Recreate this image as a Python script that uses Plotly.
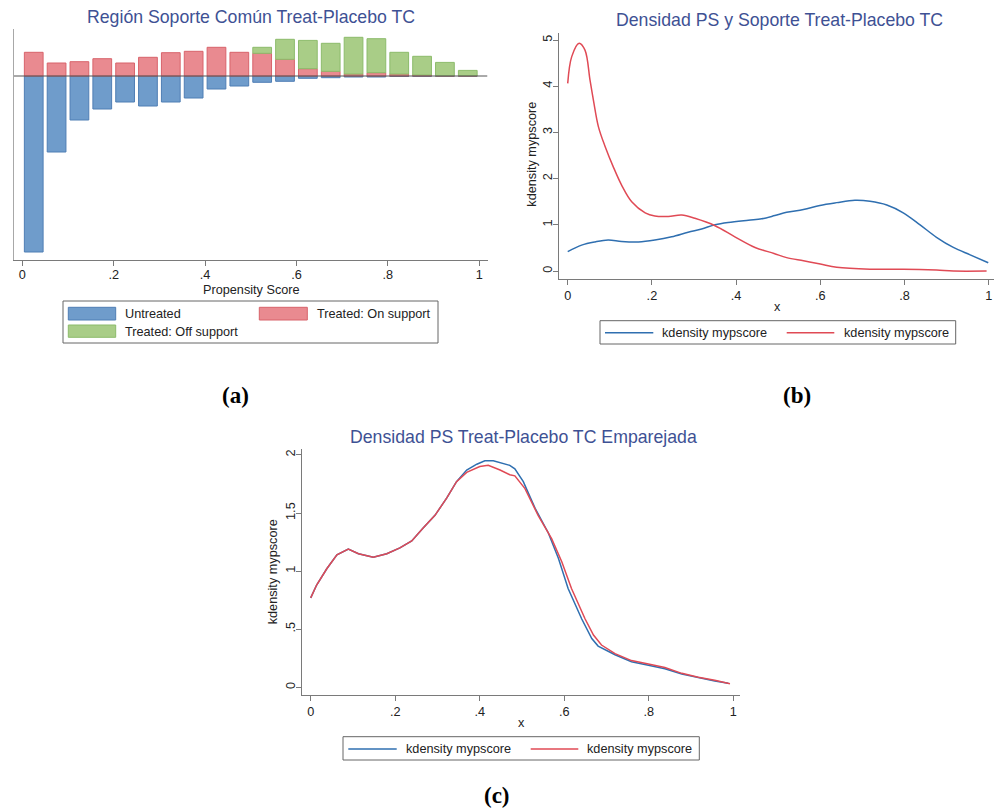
import plotly.graph_objects as go

# ---------------- data ----------------
# (a) histogram bins of the propensity score
bin_centers = [0.025, 0.075, 0.125, 0.175, 0.225, 0.275, 0.325, 0.375, 0.425, 0.475,
               0.525, 0.575, 0.625, 0.675, 0.725, 0.775, 0.825, 0.875, 0.925, 0.975]
untreated = [-176, -76, -44, -33, -26, -30, -26, -22, -13, -10,
             -6.3, -5.3, -2.3, -1.7, -1.0, -1.0, -0.5, -0.3, -0.2, -0.1]
treated_on = [23.7, 13, 14.3, 17.3, 13, 18.7, 23.3, 24.7, 28.7, 23.7,
              22.7, 16.7, 7.3, 4.7, 2.0, 3.3, 2.0, 1.0, 0.3, 0.3]
treated_off = [None, None, None, None, None, None, None, None, None, None,
               6.0, 20.0, 28.3, 28.0, 36.7, 34.0, 21.7, 18.7, 13.3, 5.3]
xticks_a = [0, 0.2, 0.4, 0.6, 0.8, 1]
xticktext = ["0", ".2", ".4", ".6", ".8", "1"]

# (b) kernel densities, unmatched
b_blue_x = [0, 0.033, 0.065, 0.096, 0.128, 0.168, 0.207, 0.247, 0.286, 0.318, 0.35, 0.381,
            0.429, 0.461, 0.492, 0.52, 0.56, 0.599, 0.639, 0.682, 0.718, 0.758, 0.797,
            0.837, 0.876, 0.916, 0.956, 0.999]
b_blue_y = [0.42, 0.56, 0.63, 0.67, 0.64, 0.63, 0.67, 0.74, 0.84, 0.91, 1.0, 1.05,
            1.10, 1.13, 1.20, 1.27, 1.33, 1.42, 1.48, 1.53, 1.51, 1.43, 1.26,
            1.0, 0.73, 0.51, 0.35, 0.18]
b_red_x = [0, 0.0095, 0.027, 0.041, 0.053, 0.061, 0.073, 0.089, 0.108, 0.128, 0.152, 0.184,
           0.207, 0.239, 0.271, 0.302, 0.35, 0.397, 0.445, 0.49, 0.52, 0.56, 0.60,
           0.639, 0.718, 0.797, 0.876, 0.916, 0.995]
b_red_y = [4.06, 4.64, 4.93, 4.78, 4.13, 3.70, 3.12, 2.69, 2.26, 1.86, 1.50, 1.26,
           1.19, 1.18, 1.21, 1.14, 0.98, 0.74, 0.51, 0.38, 0.29, 0.22, 0.15,
           0.08, 0.04, 0.04, 0.02, 0.0, 0.0]
yticks_b = [0, 1, 2, 3, 4, 5]
yticktext_b = ["0", "1", "2", "3", "4", "5"]

# (c) kernel densities, matched
c_blue_x = [0, 0.014, 0.038, 0.062, 0.089, 0.113, 0.148, 0.18, 0.211, 0.239, 0.266, 0.294,
            0.322, 0.345, 0.369, 0.393, 0.412, 0.432, 0.471, 0.483, 0.503, 0.531, 0.562,
            0.586, 0.609, 0.641, 0.665, 0.68, 0.72, 0.759, 0.799, 0.838, 0.878, 0.917,
            0.956, 0.988]
c_blue_y = [0.77, 0.88, 1.02, 1.14, 1.19, 1.15, 1.12, 1.15, 1.20, 1.26, 1.37, 1.48,
            1.63, 1.77, 1.87, 1.92, 1.95, 1.95, 1.91, 1.88, 1.77, 1.54, 1.33,
            1.11, 0.85, 0.59, 0.42, 0.355, 0.28, 0.22, 0.19, 0.16, 0.115, 0.083,
            0.054, 0.034]
c_red_x = [0, 0.014, 0.038, 0.062, 0.089, 0.113, 0.148, 0.18, 0.211, 0.239, 0.266, 0.294,
           0.322, 0.345, 0.369, 0.40, 0.42, 0.448, 0.471, 0.483, 0.507, 0.538, 0.57,
           0.594, 0.617, 0.649, 0.669, 0.688, 0.72, 0.759, 0.799, 0.838, 0.878, 0.917,
           0.956, 0.992]
c_red_y = [0.77, 0.88, 1.02, 1.14, 1.19, 1.15, 1.12, 1.15, 1.20, 1.26, 1.37, 1.48,
           1.63, 1.77, 1.85, 1.90, 1.91, 1.87, 1.83, 1.82, 1.71, 1.48, 1.28,
           1.08, 0.85, 0.59, 0.45, 0.364, 0.29, 0.23, 0.20, 0.17, 0.12, 0.086,
           0.06, 0.031]
yticks_c = [0, 0.5, 1, 1.5, 2]
yticktext_c = ["0", ".5", "1", "1.5", "2"]

legend_label = "kdensity mypscore"

# ---------------- styles ----------------
W, H = 994, 812
FONT = "Liberation Sans, Arial, sans-serif"
FS = 12.7
TITLE_COL = "#3e5194"
AX_COL = "#7a7a7a"
BLUE_FILL, BLUE_LINE = "#6f9ccb", "#4f7eb4"
RED_FILL, RED_LINE = "#e98a90", "#d8636b"
GREEN_FILL, GREEN_LINE = "#a9cd87", "#8cbb6b"
BLUE_CURVE, RED_CURVE = "#2f6fb0", "#e04a55"


def px(X):
    return X / W


def py(Y):
    return 1 - Y / H


fig = go.Figure()

bw = 0.041
fig.add_trace(go.Bar(x=bin_centers, y=untreated, width=bw, name="Untreated",
                     marker=dict(color=BLUE_FILL, line=dict(color=BLUE_LINE, width=1)),
                     xaxis="x", yaxis="y", showlegend=False))
fig.add_trace(go.Bar(x=bin_centers, y=treated_on, width=bw, name="Treated: On support",
                     marker=dict(color=RED_FILL, line=dict(color=RED_LINE, width=1)),
                     xaxis="x", yaxis="y", showlegend=False))
fig.add_trace(go.Bar(x=bin_centers, y=treated_off, width=bw, name="Treated: Off support",
                     marker=dict(color=GREEN_FILL, line=dict(color=GREEN_LINE, width=1)),
                     xaxis="x", yaxis="y", showlegend=False))

fig.add_trace(go.Scatter(x=b_blue_x, y=b_blue_y, mode="lines", line=dict(color=BLUE_CURVE, width=1.5, shape="spline"),
                         xaxis="x2", yaxis="y2", showlegend=False))
fig.add_trace(go.Scatter(x=b_red_x, y=b_red_y, mode="lines", line=dict(color=RED_CURVE, width=1.5, shape="spline"),
                         xaxis="x2", yaxis="y2", showlegend=False))
fig.add_trace(go.Scatter(x=c_blue_x, y=c_blue_y, mode="lines", line=dict(color=BLUE_CURVE, width=1.5),
                         xaxis="x3", yaxis="y3", showlegend=False))
fig.add_trace(go.Scatter(x=c_red_x, y=c_red_y, mode="lines", line=dict(color=RED_CURVE, width=1.5),
                         xaxis="x3", yaxis="y3", showlegend=False))

tickfont = dict(family=FONT, size=FS, color="#222")
common_x = dict(showline=True, linecolor=AX_COL, linewidth=1, ticks="outside", ticklen=5,
                tickcolor=AX_COL, showgrid=False, zeroline=False,
                tickvals=xticks_a, ticktext=xticktext, tickfont=tickfont)
common_y = dict(showline=True, linewidth=1, showgrid=False, zeroline=False)

fig.update_layout(
    width=W, height=H, margin=dict(l=0, r=0, t=0, b=0),
    paper_bgcolor="white", plot_bgcolor="white", barmode="relative",
    font=dict(family=FONT, color="#222"),
    xaxis=dict(domain=[px(14), px(487.5)], range=[-0.0182, 1.0182], anchor="y",
               ticklabelstandoff=-2, **common_x),
    yaxis=dict(domain=[py(260), py(29)], range=[-184, 47], anchor="x", showticklabels=False,
               ticks="", linecolor="#a8a8a8", **common_y),
    xaxis2=dict(domain=[px(559.3), 1.0], range=[-0.02, 1.0126], anchor="y2", **common_x),
    yaxis2=dict(domain=[py(279), py(33.3)], range=[-0.173, 5.145], anchor="x2",
                tickvals=yticks_b, ticktext=yticktext_b, tickangle=-90, ticks="outside",
                ticklen=5, tickcolor=AX_COL, tickfont=tickfont, ticklabelstandoff=-4,
                linecolor=AX_COL, **common_y),
    xaxis3=dict(domain=[px(302.3), px(740)], range=[-0.0199, 1.0157], anchor="y3", **common_x),
    yaxis3=dict(domain=[py(695), py(449)], range=[-0.0663, 2.051], anchor="x3",
                tickvals=yticks_c, ticktext=yticktext_c, tickangle=-90, ticks="outside",
                ticklen=5, tickcolor=AX_COL, tickfont=tickfont, ticklabelstandoff=-4,
                linecolor=AX_COL, **common_y),
)

shapes = []
annotations = []

# zero line in (a)
shapes.append(dict(type="line", xref="x", yref="y", x0=-0.0182, x1=1.0182, y0=0, y1=0,
                   line=dict(color="#555555", width=1), layer="above"))


def text(X, Y, s, size=FS, color="#222", xanchor="center", angle=0, family=FONT):
    annotations.append(dict(x=px(X), y=py(Y), xref="paper", yref="paper", text=s,
                            showarrow=False, xanchor=xanchor, yanchor="middle",
                            textangle=angle, font=dict(family=family, size=size, color=color)))


# titles
text(251, 17, "Región Soporte Común Treat-Placebo TC", size=17.7, color=TITLE_COL)
text(779, 20, "Densidad PS y Soporte Treat-Placebo TC", size=17.7, color=TITLE_COL)
text(523, 437, "Densidad PS Treat-Placebo TC Emparejada", size=17.7, color=TITLE_COL)

# axis titles
text(251, 290, "Propensity Score")
text(777.7, 306.7, "x")
text(521, 723.3, "x")
text(531.7, 154, "kdensity mypscore", angle=-90)
text(273.3, 572, "kdensity mypscore", angle=-90)

# panel labels
SERIF = "Liberation Serif, Times New Roman, serif"
text(235, 396, "<b>(a)</b>", size=23, color="#000", family=SERIF)
text(797, 396, "<b>(b)</b>", size=23, color="#000", family=SERIF)
text(497, 795, "<b>(c)</b>", size=23, color="#000", family=SERIF)


def rect(x0, y0, x1, y1, line_col, fill="rgba(0,0,0,0)", w=1):
    shapes.append(dict(type="rect", xref="paper", yref="paper", x0=px(x0), x1=px(x1),
                       y0=py(y1), y1=py(y0), line=dict(color=line_col, width=w), fillcolor=fill))


def hline(x0, x1, Y, col):
    shapes.append(dict(type="line", xref="paper", yref="paper", x0=px(x0), x1=px(x1),
                       y0=py(Y), y1=py(Y), line=dict(color=col, width=1.5)))


# legend (a)
rect(63, 301, 438, 343, "#666666")
rect(68.3, 307.3, 115.7, 320, BLUE_LINE, BLUE_FILL)
text(123.3, 314, "Untreated", xanchor="left")
rect(259.3, 307.3, 307.3, 320, RED_LINE, RED_FILL)
text(315, 314, "Treated: On support", xanchor="left")
rect(68.3, 325, 115.7, 337.3, GREEN_LINE, GREEN_FILL)
text(123.3, 331.5, "Treated: Off support", xanchor="left")

# legend (b)
rect(600, 320.7, 955.7, 344, "#666666")
hline(605, 653.3, 332.7, BLUE_CURVE)
text(660.3, 332.7, legend_label, xanchor="left")
hline(786.7, 834.3, 332.7, RED_CURVE)
text(841.7, 332.7, legend_label, xanchor="left")

# legend (c)
rect(343, 736.7, 699.3, 760, "#666666")
hline(348.3, 396.7, 749, BLUE_CURVE)
text(404, 749, legend_label, xanchor="left")
hline(530.7, 578.3, 749, RED_CURVE)
text(585.3, 749, legend_label, xanchor="left")

fig.update_layout(shapes=shapes, annotations=annotations)
fig.write_html("out.html", config={"displayModeBar": False},
               post_script="document.body.style.margin='0';document.body.style.overflow='hidden';")
